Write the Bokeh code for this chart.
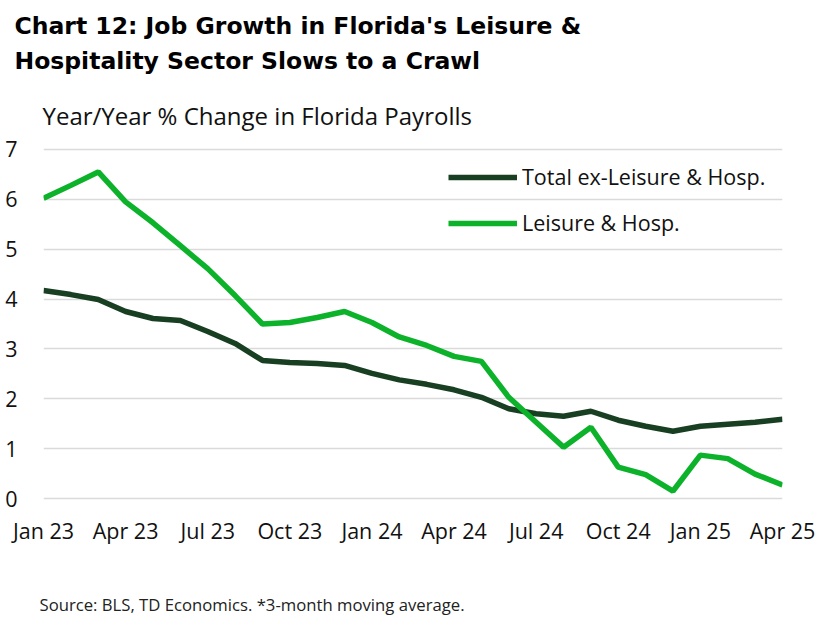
from bokeh.plotting import figure
from bokeh.models import (Range1d, Legend, LegendItem, FixedTicker, ColumnDataSource, Title,
                          LinearAxis)
from bokeh.embed import file_html
from bokeh.resources import INLINE

months = ["Jan 23", "Feb 23", "Mar 23", "Apr 23", "May 23", "Jun 23", "Jul 23", "Aug 23",
          "Sep 23", "Oct 23", "Nov 23", "Dec 23", "Jan 24", "Feb 24", "Mar 24", "Apr 24",
          "May 24", "Jun 24", "Jul 24", "Aug 24", "Sep 24", "Oct 24", "Nov 24", "Dec 24",
          "Jan 25", "Feb 25", "Mar 25", "Apr 25"]
total_ex_leisure = [4.17, 4.09, 3.99, 3.75, 3.61, 3.57, 3.35, 3.11, 2.77, 2.73, 2.71, 2.67,
                    2.51, 2.38, 2.29, 2.18, 2.03, 1.80, 1.70, 1.65, 1.75, 1.57, 1.45, 1.35,
                    1.45, 1.49, 1.53, 1.59]
leisure_hosp = [6.02, 6.28, 6.55, 5.95, 5.53, 5.07, 4.61, 4.07, 3.50, 3.53, 3.63, 3.75,
                3.53, 3.24, 3.07, 2.85, 2.75, 2.03, 1.53, 1.03, 1.43, 0.63, 0.48, 0.15,
                0.87, 0.80, 0.49, 0.27]
tick_months = ["Jan 23", "Apr 23", "Jul 23", "Oct 23", "Jan 24", "Apr 24", "Jul 24",
               "Oct 24", "Jan 25", "Apr 25"]
y_ticks = [0, 1, 2, 3, 4, 5, 6, 7]

TITLE_1 = "Chart 12: Job Growth in Florida's Leisure &"
TITLE_2 = "Hospitality Sector Slows to a Crawl"
SUBTITLE = "Year/Year % Change in Florida Payrolls"
SOURCE = "Source: BLS, TD Economics. *3-month moving average."

FONT = "Open Sans"
TITLE_FONT = "DejaVu Sans"
DARK = "#183F22"
GREEN = "#0DB22B"

idx = list(range(len(months)))
src = ColumnDataSource(dict(x=idx, month=months, total=total_ex_leisure, leisure=leisure_hosp))

p = figure(width=827, height=617, output_backend="svg", toolbar_location=None, title=None,
           x_range=Range1d(0, len(months) - 1), y_range=Range1d(-0.1, 7.1),
           min_border_left=43, min_border_right=45, min_border_top=144, min_border_bottom=114)
p.outline_line_color = None
p.background_fill_color = "white"
p.border_fill_color = "white"

r1 = p.line("x", "total", source=src, line_color=DARK, line_width=5.5)
r2 = p.line("x", "leisure", source=src, line_color=GREEN, line_width=5.5)

tick_pos = [months.index(m) for m in tick_months]
p.xaxis.ticker = FixedTicker(ticks=tick_pos)
p.xaxis.major_label_overrides = {i: m for i, m in zip(tick_pos, tick_months)}
p.yaxis.ticker = FixedTicker(ticks=y_ticks)

for ax in (p.xaxis[0], p.yaxis[0]):
    ax.axis_line_color = None
    ax.major_tick_line_color = None
    ax.minor_tick_line_color = None
    ax.major_tick_out = 0
    ax.major_tick_in = 0
    ax.minor_tick_out = 0
    ax.major_label_text_font = FONT
    ax.major_label_text_font_size = "21.5px"
    ax.major_label_text_color = "#111111"
p.xaxis.major_label_standoff = 12
p.yaxis.major_label_standoff = 26

p.xgrid.grid_line_color = None
p.ygrid.grid_line_color = "#DADADA"
p.ygrid.grid_line_width = 1.5

legend = Legend(items=[LegendItem(label="Total ex-Leisure & Hosp.", renderers=[r1]),
                       LegendItem(label="Leisure & Hosp.", renderers=[r2])],
                location=(405, 266), orientation="vertical",
                glyph_width=69, glyph_height=20, label_height=20, label_standoff=5,
                spacing=17, padding=0, margin=0,
                border_line_color=None, background_fill_alpha=0,
                label_text_font=FONT, label_text_font_size="21.5px", label_text_color="#111111")
p.add_layout(legend)


def make_title(text, **kw):
    standoff = kw.pop("standoff")
    try:
        return Title(text=text, standoff=standoff, **kw)
    except Exception:
        return Title(text=text, standoff=0, **kw)


# titles: first added sits closest to the frame
p.add_layout(make_title(SUBTITLE, align="left", offset=-1,
                        text_font=FONT, text_font_size="24px", text_font_style="normal",
                        text_color="#111111", standoff=26), "above")
p.add_layout(make_title(TITLE_2, align="left", offset=-29,
                        text_font=TITLE_FONT, text_font_size="23.5px", text_font_style="bold",
                        text_color="#000000", standoff=17), "above")
p.add_layout(make_title(TITLE_1, align="left", offset=-29,
                        text_font=TITLE_FONT, text_font_size="23.5px", text_font_style="bold",
                        text_color="#000000", standoff=-6), "above")

# white, label-less axis used only as vertical space between tick labels and source note
spacer = LinearAxis(ticker=FixedTicker(ticks=[0]), axis_line_color=None,
                    major_tick_line_color="white", minor_tick_line_color=None,
                    major_tick_in=0, major_tick_out=43, minor_tick_out=0,
                    major_label_standoff=0, major_label_overrides={0: ""},
                    major_label_text_font_size="0px")
p.add_layout(spacer, "below")

p.add_layout(make_title(SOURCE, align="left", offset=-4, text_font=FONT,
                        text_font_size="16.7px", text_font_style="normal",
                        text_color="#222222", standoff=0), "below")

open("out.html", "w").write(file_html(p, INLINE))
